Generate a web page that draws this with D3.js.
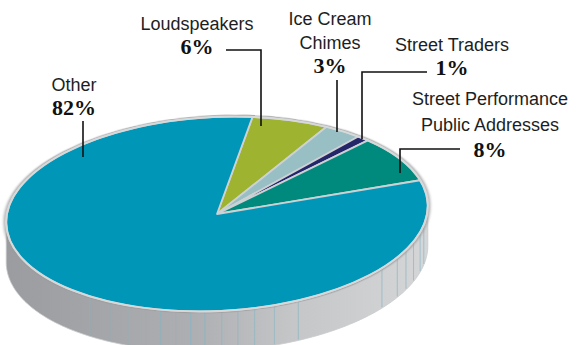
<!DOCTYPE html>
<html>
<head>
<meta charset="utf-8">
<script src="https://cdn.jsdelivr.net/npm/d3@7"></script>
<style>
  html, body { margin: 0; padding: 0; background: #ffffff; }
  svg { display: block; }
</style>
</head>
<body>
<svg id="chart" width="576" height="345"></svg>
<script>
// Shares of noise sources, in drawing order (clockwise from the top)
const categories = ["Loudspeakers", "Ice Cream Chimes", "Street Traders", "Street Performance Public Addresses", "Other"];
const shares = [6, 3, 1, 8, 82];
const nameLines = [["Loudspeakers"], ["Ice Cream", "Chimes"], ["Street Traders"], ["Street Performance", "Public Addresses"], ["Other"]];
const percentLabels = ["6%", "3%", "1%", "8%", "82%"];
const sliceColors = ["#9eb430", "#97bfc4", "#24266a", "#008a7d", "#0096b8"];

// Disc geometry (tilted ellipse with an extruded rim)
const cx = 217, cy = 214, rx = 211, ry = 97, tiltDeg = -2.8, depth = 40;
const startDeg = 11;
const tilt = tiltDeg * Math.PI / 180;

// Label layout: centre x, baselines of the name lines, baseline of the percentage
const labelLayout = [
  { x: 197, names: [30], pct: 54, leader: [[226, 50], [261, 50], [261, 126]] },
  { x: 330, names: [25, 49], pct: 73, leader: [[337, 80], [337, 132]] },
  { x: 452, names: [51], pct: 75, leader: [[427, 72], [362, 72], [362, 139]] },
  { x: 490, names: [105, 131], pct: 157, leader: [[460, 149], [400, 149], [400, 173]] },
  { x: 74, names: [91], pct: 115, leader: [[83, 121], [83, 157]] }
];

// Facet seams on the rim, in degrees of the ellipse parameter
const seamAngles = [12.5, 16.8, 22.5, 27.6, 32.5, 39.8, 68.6, 75.5, 81, 85.6, 90, 94.6, 98.5,
                    102.6, 106.8, 111.1, 115.9, 121.4, 128.4];

const svg = d3.select("#chart");
const defs = svg.append("defs");

const grad = defs.append("linearGradient")
  .attr("id", "rimGrad").attr("gradientUnits", "userSpaceOnUse")
  .attr("x1", cx - rx).attr("x2", cx + rx).attr("y1", 0).attr("y2", 0);
[[0, "#9a9ca0"], [0.45, "#adafb2"], [0.68, "#c5c6c8"], [1, "#d5d6d8"]].forEach(([o, c]) =>
  grad.append("stop").attr("offset", o).attr("stop-color", c));

defs.append("filter").attr("id", "soft").attr("x", "-5%").attr("y", "-10%").attr("width", "110%").attr("height", "120%")
  .append("feGaussianBlur").attr("stdDeviation", 1.6);

// point on the top ellipse for parameter t (radians, screen orientation)
function rimPoint(t, dy = 0) {
  const u = rx * Math.cos(t), v = ry * Math.sin(t);
  return [cx + u * Math.cos(tilt) - v * Math.sin(tilt),
          cy + u * Math.sin(tilt) + v * Math.cos(tilt) + dy];
}

// Front rim: between the two points where the ellipse outline is vertical
const t0 = Math.atan(-(ry / rx) * Math.tan(tilt));
const frontTs = d3.range(0, 181).map(i => t0 + i * Math.PI / 180);
const rimOutline = frontTs.map(t => rimPoint(t)).concat(frontTs.slice().reverse().map(t => rimPoint(t, depth)));

svg.append("path")
  .attr("d", d3.line()(rimOutline) + "Z")
  .attr("fill", "url(#rimGrad)")
  .attr("stroke", "#c9cacc")
  .attr("stroke-width", 0.8);

svg.append("g").selectAll("line")
  .data(seamAngles)
  .join("line")
  .each(function (deg) {
    const t = deg * Math.PI / 180;
    const a = rimPoint(t), b = rimPoint(t, depth);
    d3.select(this).attr("x1", a[0]).attr("y1", a[1] + 1).attr("x2", b[0]).attr("y2", b[1] - 1);
  })
  .attr("stroke", "#86b6c3")
  .attr("stroke-opacity", 0.75)
  .attr("stroke-width", 0.9);

// Top face
const topFace = svg.append("g")
  .attr("transform", `translate(${cx},${cy}) rotate(${tiltDeg}) scale(1,${ry / rx})`);

topFace.append("circle")
  .attr("r", rx + 1)
  .attr("fill", "none")
  .attr("stroke", "#9a9a9a")
  .attr("stroke-width", 2.5)
  .attr("vector-effect", "non-scaling-stroke")
  .attr("filter", "url(#soft)");

const pie = d3.pie().sort(null).value(d => d)
  .startAngle(startDeg * Math.PI / 180)
  .endAngle(startDeg * Math.PI / 180 + 2 * Math.PI);
const arc = d3.arc().innerRadius(0).outerRadius(rx);

topFace.selectAll("path.slice")
  .data(pie(shares))
  .join("path")
  .attr("class", "slice")
  .attr("d", arc)
  .attr("fill", (d, i) => sliceColors[i])
  .attr("stroke", "#cdd1d3")
  .attr("stroke-width", 1.8)
  .attr("stroke-linejoin", "round")
  .attr("vector-effect", "non-scaling-stroke");

topFace.append("circle")
  .attr("r", rx)
  .attr("fill", "none")
  .attr("stroke", "#d6d8d9")
  .attr("stroke-width", 2)
  .attr("vector-effect", "non-scaling-stroke");

// Leaders and labels
const labels = svg.append("g");
labelLayout.forEach((L, i) => {
  labels.append("path")
    .attr("d", d3.line()(L.leader))
    .attr("fill", "none")
    .attr("stroke", "#111")
    .attr("stroke-width", 1.6);
  nameLines[i].forEach((line, k) => {
    labels.append("text")
      .attr("x", L.x).attr("y", L.names[k])
      .attr("text-anchor", "middle")
      .attr("font-family", "'Liberation Sans', Arial, Helvetica, sans-serif")
      .attr("font-size", 18)
      .attr("fill", "#1e1e1e")
      .text(line);
  });
  labels.append("text")
    .attr("x", L.x).attr("y", L.pct)
    .attr("text-anchor", "middle")
    .attr("font-family", "'Liberation Serif', 'Times New Roman', serif")
    .attr("font-weight", "bold")
    .attr("font-size", 22)
    .attr("fill", "#111")
    .text(percentLabels[i]);
});
</script>
</body>
</html>
